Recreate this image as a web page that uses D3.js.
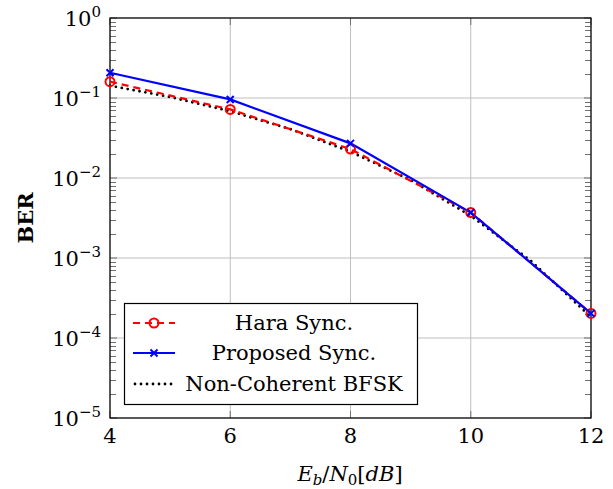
<!DOCTYPE html>
<html>
<head>
<meta charset="utf-8">
<script src="https://cdn.jsdelivr.net/npm/d3@7"></script>
<style>
  html, body { margin: 0; padding: 0; background: #fff; }
  svg text { font-family: "DejaVu Serif", serif; fill: #000; }
</style>
</head>
<body>
<svg id="chart" width="613" height="489"></svg>
<script>
// Eb/N0 sample points (dB)
const snr = [4, 6, 8, 10, 12];
// Bit error rate of each synchronisation scheme
const haraBer = [0.160, 0.072, 0.023, 0.0037, 2.03e-4];
const proposedBer = [0.207, 0.096, 0.0271, 0.0037, 2.03e-4];
// Theoretical non-coherent BFSK reference curve
const bfskSnr = [4, 5, 6, 7, 8, 9, 10, 11, 12];
const bfskBer = [0.1424, 0.1029, 0.0683, 0.0408, 0.0213, 0.00942, 0.00337, 9.2e-4, 1.82e-4];
// Axis ticks
const xTicks = [4, 6, 8, 10, 12];
const yExponents = [0, -1, -2, -3, -4, -5];
const legendLabels = ["Hara Sync.", "Proposed Sync.", "Non-Coherent BFSK"];

const svg = d3.select("#chart");
const m = { left: 110, top: 18, right: 591, bottom: 418 };
const FS = 21, FS_SMALL = 15;

const x = d3.scaleLinear().domain([4, 12]).range([m.left, m.right]);
const y = d3.scaleLog().domain([1e-5, 1]).range([m.bottom, m.top]);

// grid
const grid = svg.append("g").attr("stroke", "#bfbfbf").attr("stroke-width", 1);
xTicks.forEach(t => grid.append("line")
  .attr("x1", x(t)).attr("x2", x(t)).attr("y1", m.top).attr("y2", m.bottom));
yExponents.forEach(e => grid.append("line")
  .attr("x1", m.left).attr("x2", m.right).attr("y1", y(Math.pow(10, e))).attr("y2", y(Math.pow(10, e))));

// minor ticks on the log axis (both sides, pointing inward)
const minor = [];
for (let e = -5; e < 0; e++) for (let k = 2; k <= 9; k++) minor.push(k * Math.pow(10, e));
const tk = svg.append("g").attr("stroke", "#707070").attr("stroke-width", 1);
minor.forEach(v => {
  const yy = Math.round(y(v)) + 0.5;
  tk.append("line").attr("x1", m.left).attr("x2", m.left + 6).attr("y1", yy).attr("y2", yy);
  tk.append("line").attr("x1", m.right - 6).attr("x2", m.right).attr("y1", yy).attr("y2", yy);
});
yExponents.forEach(e => {
  const yy = y(Math.pow(10, e));
  tk.append("line").attr("x1", m.left).attr("x2", m.left + 7).attr("y1", yy).attr("y2", yy);
  tk.append("line").attr("x1", m.right - 7).attr("x2", m.right).attr("y1", yy).attr("y2", yy);
});
xTicks.forEach(t => {
  tk.append("line").attr("x1", x(t)).attr("x2", x(t)).attr("y1", m.bottom).attr("y2", m.bottom - 7);
  tk.append("line").attr("x1", x(t)).attr("x2", x(t)).attr("y1", m.top).attr("y2", m.top + 7);
});

// frame
svg.append("rect").attr("x", m.left).attr("y", m.top)
  .attr("width", m.right - m.left).attr("height", m.bottom - m.top)
  .attr("fill", "none").attr("stroke", "#000").attr("stroke-width", 1.2);

// y tick labels 10^e
yExponents.forEach(e => {
  const t = svg.append("text").attr("x", 101).attr("y", y(Math.pow(10, e)) + 8)
    .attr("text-anchor", "end").attr("font-size", FS);
  t.append("tspan").text("10");
  t.append("tspan").attr("dy", -9).attr("font-size", FS_SMALL).text(e === 0 ? "0" : "\u2212" + (-e));
});

// x tick labels
xTicks.forEach(v => svg.append("text").attr("x", x(v)).attr("y", 443)
  .attr("text-anchor", "middle").attr("font-size", FS).text(v));

// axis titles
svg.append("text").attr("transform", "translate(33,218) rotate(-90)")
  .attr("text-anchor", "middle").attr("font-size", FS).attr("font-weight", "bold").text("BER");
const xl = svg.append("text").attr("x", 350).attr("y", 481).attr("text-anchor", "middle")
  .attr("font-size", FS);
xl.append("tspan").attr("font-style", "italic").text("E");
xl.append("tspan").attr("dy", 4).attr("font-size", FS_SMALL).attr("font-style", "italic").text("b");
xl.append("tspan").attr("dy", -4).text("/");
xl.append("tspan").attr("font-style", "italic").text("N");
xl.append("tspan").attr("dy", 4).attr("font-size", FS_SMALL).text("0");
xl.append("tspan").attr("dy", -4).text("[");
xl.append("tspan").attr("font-style", "italic").text("dB");
xl.append("tspan").text("]");

// series
const line = d3.line().x(d => x(d[0])).y(d => y(d[1]));
const plot = svg.append("g");

plot.append("path").datum(d3.zip(bfskSnr, bfskBer)).attr("d", line)
  .attr("fill", "none").attr("stroke", "#000").attr("stroke-width", 2.8)
  .attr("stroke-dasharray", "0,6").attr("stroke-linecap", "round");

plot.append("path").datum(d3.zip(snr, haraBer)).attr("d", line)
  .attr("fill", "none").attr("stroke", "#ff0000").attr("stroke-width", 2.2)
  .attr("stroke-dasharray", "7,5");

plot.append("path").datum(d3.zip(snr, proposedBer)).attr("d", line)
  .attr("fill", "none").attr("stroke", "#0000ff").attr("stroke-width", 2.2);

function circleMark(g, cx, cy) {
  g.append("circle").attr("cx", cx).attr("cy", cy).attr("r", 4.5)
    .attr("fill", "none").attr("stroke", "#ff0000").attr("stroke-width", 2);
}
function crossMark(g, cx, cy) {
  const s = 3.5;
  g.append("path").attr("d", `M${cx - s},${cy - s}L${cx + s},${cy + s}M${cx - s},${cy + s}L${cx + s},${cy - s}`)
    .attr("stroke", "#0000ff").attr("stroke-width", 2).attr("fill", "none");
}
snr.forEach((s, i) => circleMark(plot, x(s), y(haraBer[i])));
snr.forEach((s, i) => crossMark(plot, x(s), y(proposedBer[i])));

// legend
const lg = svg.append("g");
lg.append("rect").attr("x", 124.5).attr("y", 303.5).attr("width", 293).attr("height", 101)
  .attr("fill", "#fff").attr("stroke", "#000").attr("stroke-width", 1.2);
const rows = [323, 353, 384];
// Hara row
lg.append("line").attr("x1", 133).attr("x2", 175).attr("y1", rows[0]).attr("y2", rows[0])
  .attr("stroke", "#ff0000").attr("stroke-width", 2.2).attr("stroke-dasharray", "7,5");
circleMark(lg, 154, rows[0]);
// Proposed row
lg.append("line").attr("x1", 133).attr("x2", 175).attr("y1", rows[1]).attr("y2", rows[1])
  .attr("stroke", "#0000ff").attr("stroke-width", 2.2);
crossMark(lg, 154, rows[1]);
// BFSK row
lg.append("line").attr("x1", 135).attr("x2", 175).attr("y1", rows[2]).attr("y2", rows[2])
  .attr("stroke", "#000").attr("stroke-width", 2.8).attr("stroke-dasharray", "0,6")
  .attr("stroke-linecap", "round");
legendLabels.forEach((t, i) => lg.append("text").attr("x", 294).attr("y", rows[i] + 7)
  .attr("text-anchor", "middle").attr("font-size", FS).text(t));
</script>
</body>
</html>
